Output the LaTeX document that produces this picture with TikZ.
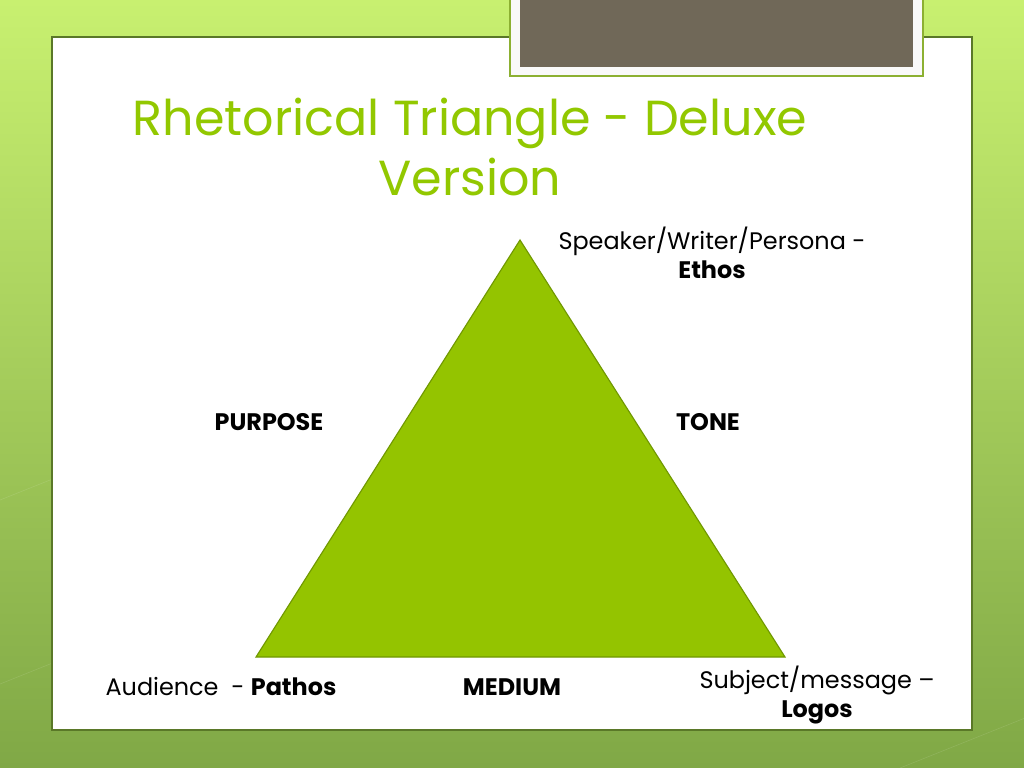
\documentclass[tikz,border=0pt]{standalone}
\usepackage{fontspec}
\setmainfont{Poppins}
\usepackage{tikz}

\definecolor{bgtop}{RGB}{200,240,112}
\definecolor{bgbot}{RGB}{128,168,70}
\definecolor{panelline}{RGB}{90,120,40}
\definecolor{tabgray}{RGB}{112,104,88}
\definecolor{tabline}{RGB}{140,176,50}
\definecolor{titlegreen}{RGB}{146,200,0}
\definecolor{trifill}{RGB}{148,196,0}
\definecolor{triline}{RGB}{112,152,0}

\tikzset{
  title/.style={text=titlegreen, align=center, font=\fontsize{35}{42.5}\selectfont},
  label/.style={text=black, align=center, font=\fontsize{17}{20.5}\selectfont},
  side/.style={label, font=\fontsize{17}{20.5}\selectfont\bfseries}
}

\begin{document}
\begin{tikzpicture}[x=0.025cm,y=-0.025cm]
  \useasboundingbox (0,0) rectangle (1024,768);
  % slide background
  \shade[top color=bgtop, bottom color=bgbot] (0,0) rectangle (1024,768);
  \foreach \a/\b in {0/500,60/620,-40/700,1024/520,1024/640,900/768} {
    \draw[white, opacity=0.12] (\a,\b) -- ++(300,-120);
  }
  \fill[white] (52,37) rectangle (972,730);
  \draw[panelline, line width=0.8] (52,37) rectangle (972,730);
  % title tab
  \filldraw[fill=white!95!gray, draw=tabline, line width=1.6] (510,-5) rectangle (923,76);
  \fill[tabgray] (520,-5) rectangle (913,67);

  \node[title] (head) at (470,147) {Rhetorical Triangle - Deluxe\\Version};

  % triangle
  \coordinate (ethos) at (520,240);
  \coordinate (pathos) at (256,657);
  \coordinate (logos) at (785,657);
  \filldraw[fill=trifill, draw=triline, line width=0.8] (ethos) -- (pathos) -- (logos) -- cycle;

  \node[label] (speaker) at (712,253) {Speaker/Writer/Persona -\\\textbf{Ethos}};
  \node[side] (purpose) at (269,422) {PURPOSE};
  \node[side] (tone) at (708,422) {TONE};
  \node[label] (audience) at (221,687) {Audience~ - \textbf{Pathos}};
  \node[side] (medium) at (512,687) {MEDIUM};
  \node[label] (subject) at (817,695) {Subject/message --\\\textbf{Logos}};
\end{tikzpicture}
\end{document}
